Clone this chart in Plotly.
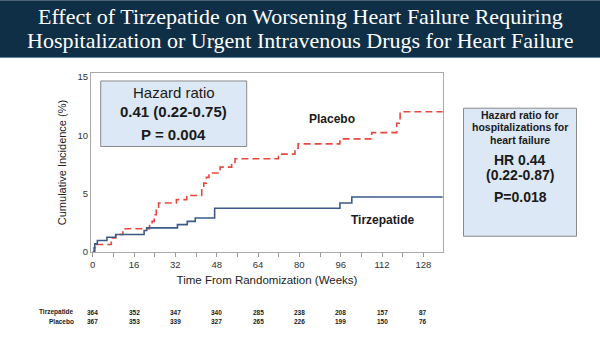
import plotly.graph_objects as go

# ---------------- data ----------------
tirz_weeks = [0, 0.8, 1.8, 5.5, 8.9, 19.9, 20.9, 32.8, 36.6, 39.7, 47.2, 95.7, 100.3, 135.5]
tirz_incidence = [0, 0.70, 0.98, 1.27, 1.50, 1.84, 2.07, 2.35, 2.63, 2.92, 3.75, 4.20, 4.72, 4.72]

placebo_weeks = [0, 0.5, 1.4, 7.2, 8.9, 11.7, 22.0, 23.0, 23.8, 24.6, 25.5, 32.4, 36.4,
                 42.2, 43.0, 44.0, 45.0, 49.3, 53.8, 55.1, 71.9, 78.3, 79.5, 95.7, 108.0,
                 117.7, 119.0, 135.5]
placebo_incidence = [0, 0.35, 0.64, 1.21, 1.50, 2.00, 2.26, 2.63, 3.20, 3.78, 4.20, 4.49, 4.85,
                     5.50, 5.91, 6.40, 6.77, 7.28, 7.68, 8.00, 8.39, 8.90, 9.27, 9.70, 10.24,
                     11.04, 12.03, 12.03]

x_tick_vals = [0, 16, 32, 48, 64, 80, 96, 112, 128]
y_tick_vals = [0, 5, 10, 15]

risk_weeks = [0, 16, 32, 48, 64, 80, 96, 112, 128]
risk_tirz = [364, 352, 347, 340, 285, 238, 208, 157, 87]
risk_placebo = [367, 353, 339, 327, 265, 226, 199, 150, 76]

title_lines = ["Effect of Tirzepatide on Worsening Heart Failure Requiring",
               "Hospitalization or Urgent Intravenous Drugs for Heart Failure"]

# ---------------- geometry helpers ----------------
W, H = 600, 338
L, R, T, B = 91, 443, 73, 252.5


def px(x):
    return (x - L) / (R - L)


def py(y):
    return (B - y) / (B - T)


fig = go.Figure()

fig.add_trace(go.Scatter(x=placebo_weeks, y=placebo_incidence, mode="lines",
                         line=dict(color="#e8483e", width=1.6, dash="7px,4px", shape="hv"),
                         name="Placebo", showlegend=False, hoverinfo="skip"))
fig.add_trace(go.Scatter(x=tirz_weeks, y=tirz_incidence, mode="lines",
                         line=dict(color="#3b5a8a", width=1.6, shape="hv"),
                         name="Tirzepatide", showlegend=False, hoverinfo="skip"))

shapes = []
annotations = []

# title banner
shapes.append(dict(type="rect", xref="paper", yref="paper",
                   x0=px(0), x1=px(W), y0=py(57), y1=py(0),
                   fillcolor="#0f2f47", line=dict(width=0), layer="below"))
shapes.append(dict(type="line", xref="paper", yref="paper",
                   x0=px(0), x1=px(W), y0=py(57.5), y1=py(57.5),
                   line=dict(color="#5b7f9c", width=1)))
for i, t in enumerate(title_lines):
    annotations.append(dict(text=t, xref="paper", yref="paper", x=px(300), y=py(16 + 24 * i),
                            xanchor="center", yanchor="middle", showarrow=False,
                            font=dict(family="Liberation Serif", size=22, color="white")))

# left HR box
shapes.append(dict(type="rect", xref="paper", yref="paper",
                   x0=px(100.7), x1=px(246.7), y0=py(146.7), y1=py(81),
                   fillcolor="#dce8f5", line=dict(color="#8a8a8a", width=1)))
annotations.append(dict(text="Hazard ratio", xref="paper", yref="paper", x=px(173.7), y=py(93),
                        showarrow=False, xanchor="center", yanchor="middle",
                        font=dict(family="Liberation Sans", size=15, color="#1a1a1a")))
annotations.append(dict(text="<b>0.41 (0.22-0.75)</b>", xref="paper", yref="paper", x=px(173.7), y=py(112),
                        showarrow=False, xanchor="center", yanchor="middle",
                        font=dict(family="Liberation Sans", size=15, color="#1a1a1a")))
annotations.append(dict(text="<b>P = 0.004</b>", xref="paper", yref="paper", x=px(173.7), y=py(135),
                        showarrow=False, xanchor="center", yanchor="middle",
                        font=dict(family="Liberation Sans", size=15, color="#1a1a1a")))

# right HR box
shapes.append(dict(type="rect", xref="paper", yref="paper",
                   x0=px(463.5), x1=px(576.5), y0=py(236.7), y1=py(108.3),
                   fillcolor="#dce8f5", line=dict(color="#8a8a8a", width=1)))
rb = [("<b>Hazard ratio for</b>", 115, 10.5), ("<b>hospitalizations for</b>", 127.5, 10.5),
      ("<b>heart failure</b>", 140, 10.5), ("<b>HR 0.44</b>", 160, 14),
      ("<b>(0.22-0.87)</b>", 175, 14), ("<b>P=0.018</b>", 197, 14)]
for t, y, s in rb:
    annotations.append(dict(text=t, xref="paper", yref="paper", x=px(520), y=py(y),
                            showarrow=False, xanchor="center", yanchor="middle",
                            font=dict(family="Liberation Sans", size=s, color="#1a1a1a")))

# curve labels
annotations.append(dict(text="<b>Placebo</b>", xref="paper", yref="paper", x=px(332), y=py(119.5),
                        showarrow=False, xanchor="center", yanchor="middle",
                        font=dict(family="Liberation Sans", size=12, color="#1a1a1a")))
annotations.append(dict(text="<b>Tirzepatide</b>", xref="paper", yref="paper", x=px(382), y=py(220.5),
                        showarrow=False, xanchor="center", yanchor="middle",
                        font=dict(family="Liberation Sans", size=12, color="#1a1a1a")))

# risk table
rfont = dict(family="Liberation Sans Narrow, Liberation Sans", size=6.5, color="#1a1a1a")
annotations.append(dict(text="<b>Tirzepatide</b>", xref="paper", yref="paper", x=px(76), y=py(313),
                        showarrow=False, xanchor="right", yanchor="middle", font=rfont))
annotations.append(dict(text="<b>Placebo</b>", xref="paper", yref="paper", x=px(76), y=py(322),
                        showarrow=False, xanchor="right", yanchor="middle", font=rfont))
for wk, a, b in zip(risk_weeks, risk_tirz, risk_placebo):
    annotations.append(dict(text=f"<b>{a}</b>", xref="x", yref="paper", x=wk, y=py(313),
                            showarrow=False, xanchor="center", yanchor="middle", font=rfont))
    annotations.append(dict(text=f"<b>{b}</b>", xref="x", yref="paper", x=wk, y=py(322),
                            showarrow=False, xanchor="center", yanchor="middle", font=rfont))

fig.update_layout(
    width=W, height=H,
    margin=dict(l=L, r=W - R, t=T, b=H - B),
    paper_bgcolor="white", plot_bgcolor="white",
    shapes=shapes, annotations=annotations,
    font=dict(family="Liberation Sans", color="#333333"),
)
fig.update_xaxes(range=[-0.66, 135.6], tickvals=x_tick_vals, ticks="outside", ticklen=4,
                 tickcolor="#999999", showline=True, linecolor="#aaaaaa", linewidth=1, mirror=True,
                 showgrid=False, zeroline=False, tickfont=dict(size=9.5, color="#333333"),
                 minor=dict(dtick=8, tick0=0, ticks="outside", ticklen=4, tickcolor="#999999"),
                 title=dict(text="Time From Randomization (Weeks)", font=dict(size=11.5, color="#222222"),
                            standoff=6))
fig.update_yaxes(range=[0, 15.35], tickvals=y_tick_vals, ticks="", showline=True,
                 linecolor="#aaaaaa", linewidth=1, mirror=True, showgrid=False, zeroline=False,
                 tickfont=dict(size=9.5, color="#333333"),
                 title=dict(text="Cumulative Incidence (%)", font=dict(size=11, color="#222222"),
                            standoff=8))

fig.write_html("out.html")
